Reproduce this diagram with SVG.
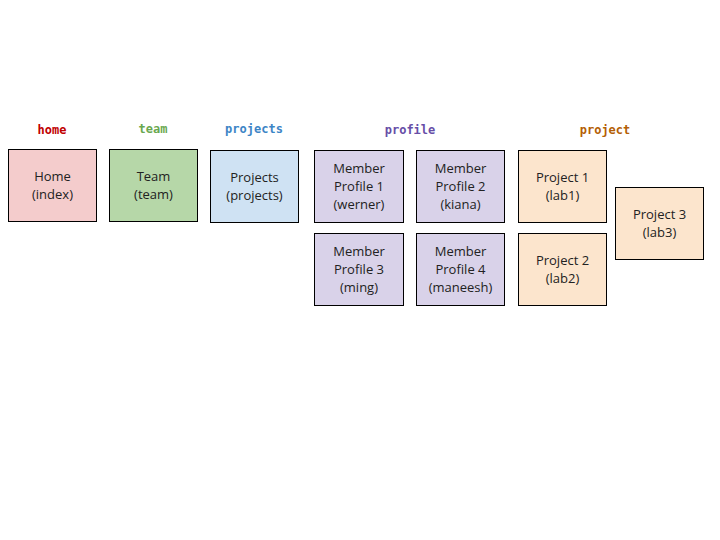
<svg xmlns="http://www.w3.org/2000/svg" width="720" height="540" viewBox="0 0 720 540">
<style>
.lbl{font-family:"DejaVu Sans Mono","Liberation Mono",monospace;font-weight:bold;font-size:12px;text-anchor:middle}
.box{stroke:#000;stroke-width:1}
.t{font-family:"Open Sans","Liberation Sans",sans-serif;font-size:13px;text-anchor:middle;fill:#222}
</style>
<rect width="720" height="540" fill="#fff"/>
<g id="labels">
<text class="lbl" x="52" y="134" fill="#c00000">home</text>
<text class="lbl" x="153" y="133" fill="#6aa84f">team</text>
<text class="lbl" x="254" y="133" fill="#3d85c6">projects</text>
<text class="lbl" x="410" y="134" fill="#674ea7">profile</text>
<text class="lbl" x="605" y="134" fill="#b45f06">project</text>
</g>
<g id="home"><rect class="box" x="8.5" y="149.5" width="88" height="72" fill="#f4cccc"/><text class="t" x="52.5" y="181">Home</text><text class="t" x="52.5" y="199">(index)</text></g>
<g id="team"><rect class="box" x="109.5" y="149.5" width="88" height="72" fill="#b6d7a8"/><text class="t" x="153.5" y="181">Team</text><text class="t" x="153.5" y="199">(team)</text></g>
<g id="projects"><rect class="box" x="210.5" y="150.5" width="88" height="72" fill="#cfe2f3"/><text class="t" x="254.5" y="182">Projects</text><text class="t" x="254.5" y="200">(projects)</text></g>
<g id="member1"><rect class="box" x="314.5" y="150.5" width="89" height="72" fill="#d9d2e9"/><text class="t" x="359" y="173">Member</text><text class="t" x="359" y="191">Profile 1</text><text class="t" x="359" y="209">(werner)</text></g>
<g id="member2"><rect class="box" x="416.5" y="150.5" width="88" height="72" fill="#d9d2e9"/><text class="t" x="460.5" y="173">Member</text><text class="t" x="460.5" y="191">Profile 2</text><text class="t" x="460.5" y="209">(kiana)</text></g>
<g id="project1"><rect class="box" x="518.5" y="150.5" width="88" height="72" fill="#fce5cd"/><text class="t" x="562.5" y="182">Project 1</text><text class="t" x="562.5" y="200">(lab1)</text></g>
<g id="project3"><rect class="box" x="615.5" y="187.5" width="88" height="72" fill="#fce5cd"/><text class="t" x="659.5" y="219">Project 3</text><text class="t" x="659.5" y="237">(lab3)</text></g>
<g id="member3"><rect class="box" x="314.5" y="233.5" width="89" height="72" fill="#d9d2e9"/><text class="t" x="359" y="256">Member</text><text class="t" x="359" y="274">Profile 3</text><text class="t" x="359" y="292">(ming)</text></g>
<g id="member4"><rect class="box" x="416.5" y="233.5" width="88" height="72" fill="#d9d2e9"/><text class="t" x="460.5" y="256">Member</text><text class="t" x="460.5" y="274">Profile 4</text><text class="t" x="460.5" y="292">(maneesh)</text></g>
<g id="project2"><rect class="box" x="518.5" y="233.5" width="88" height="72" fill="#fce5cd"/><text class="t" x="562.5" y="265">Project 2</text><text class="t" x="562.5" y="283">(lab2)</text></g>
<g id="connectors"></g>
</svg>
